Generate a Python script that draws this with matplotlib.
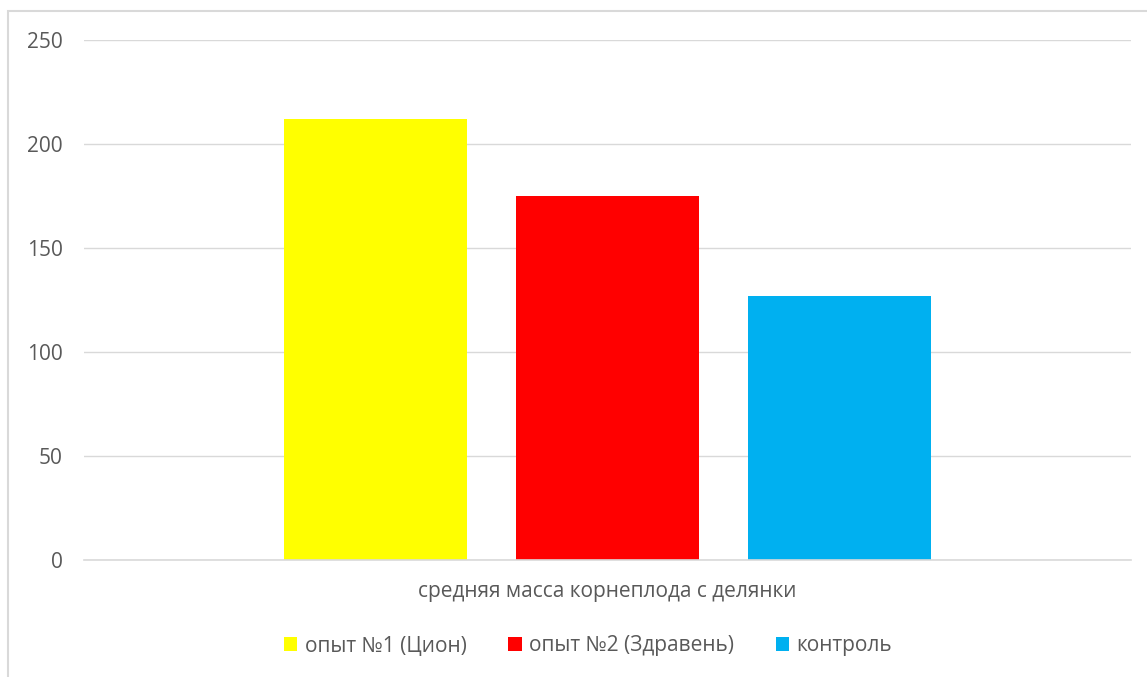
import matplotlib.pyplot as plt
from matplotlib.patches import Rectangle

# values
series = ["опыт №1 (Цион)", "опыт №2 (Здравень)", "контроль"]
values = [212, 175, 127]
colors = ["#FFFF00", "#FF0000", "#00B0F0"]
category = "средняя масса корнеплода с делянки"
yticks = [0, 50, 100, 150, 200, 250]

TEXT = "#595959"
GRID = "#D9D9D9"
FS = 15
plt.rcParams["font.family"] = ["Open Sans", "DejaVu Sans"]

W, H = 1147, 677
fig = plt.figure(figsize=(W / 100, H / 100), dpi=100)

# outer chart border (light gray, like the Excel chart frame)
fig.patches.append(Rectangle((8 / W, -0.1), 1.2, 1 - 11 / H + 0.1,
                             transform=fig.transFigure, fill=False,
                             edgecolor=GRID, linewidth=1.5))

ax = fig.add_axes([84 / W, 1 - 560 / H, (1131 - 84) / W, (560 - 40) / H])

width = 183 / 232
for i, (name, v, c) in enumerate(zip(series, values, colors)):
    ax.bar(i, v, width=width, color=c, label=name, zorder=2)

ax.set_xlim(1 - 523.5 / 232, 1 + 523.5 / 232)
ax.set_ylim(0, 250)
ax.set_yticks(yticks)
ax.yaxis.grid(True, color=GRID, linewidth=1.0, zorder=0)
ax.axhline(0, color=GRID, linewidth=1.2, zorder=3, clip_on=False)
ax.set_xticks([])
for s in ax.spines.values():
    s.set_visible(False)
ax.tick_params(axis="y", length=0, pad=15.5, labelsize=FS, labelcolor=TEXT)

fig.text(607 / W, 1 - 591 / H, category, ha="center", va="center",
         fontsize=FS, color=TEXT)

leg = fig.legend(loc="center", bbox_to_anchor=(588 / W, 1 - 646 / H),
                 ncol=3, frameon=False, fontsize=FS, labelcolor=TEXT,
                 handlelength=0.65, handleheight=0.65, handletextpad=0.35,
                 columnspacing=2.0)

fig.savefig("out.png", dpi=100)
